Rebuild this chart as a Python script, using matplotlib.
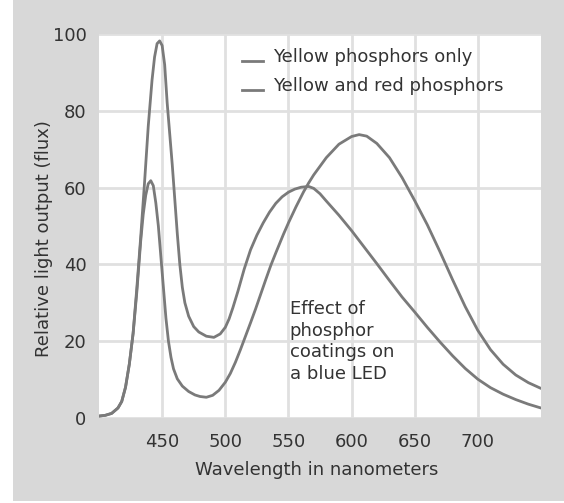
import matplotlib
matplotlib.use("Agg")
import matplotlib.pyplot as plt
from matplotlib.patches import Rectangle
from matplotlib.lines import Line2D
from matplotlib.legend_handler import HandlerLine2D

# ---- data ----
wl_yellow = [400, 405, 410, 415, 418, 421, 424, 427, 430, 433, 436, 439, 442, 444,
             446, 448, 450, 452, 454, 456, 458, 460, 462, 464, 466, 468, 471, 475,
             479, 485, 491, 496, 500, 503, 506, 510, 515, 520, 525, 530, 535, 540,
             545, 550, 555, 560, 566, 570, 575, 580, 590, 600, 610, 620, 630, 640,
             650, 660, 670, 680, 690, 700, 710, 720, 730, 740, 750]
flux_yellow = [0.5, 0.7, 1.2, 2.6, 4.3, 8, 14, 22, 34, 47, 61, 76, 88, 94,
               97.5, 98.2, 97, 92, 82, 74, 66, 57, 48, 40, 34, 30, 26.5, 23.8,
               22.4, 21.3, 21, 21.9, 23.6, 25.8, 28.7, 33, 38.8, 43.8, 47.6, 50.8, 53.6, 55.9,
               57.6, 58.8, 59.6, 60.1, 60.3, 59.8, 58.4, 56.5, 52.8, 48.8, 44.5, 40.2, 35.8, 31.5,
               27.6, 23.6, 19.8, 16.2, 12.9, 10.1, 7.9, 6.2, 4.8, 3.6, 2.6]

wl_red = [400, 405, 410, 415, 418, 421, 424, 427, 430, 433, 435, 437, 439, 441,
          443, 445, 447, 449, 451, 453, 455, 457, 459, 462, 466, 471, 476, 480,
          485, 490, 495, 500, 504, 508, 512, 516, 520, 524, 528, 532, 536, 540,
          546, 550, 556, 562, 566, 570, 580, 590, 600, 606, 612, 620, 630, 640,
          650, 660, 670, 680, 690, 700, 710, 720, 730, 740, 750]
flux_red = [0.5, 0.7, 1.2, 2.6, 4.3, 8, 14, 22, 33, 46, 53, 58, 61, 61.8,
            60.5, 56, 50, 42, 34, 26, 20, 15.8, 12.8, 10.2, 8.3, 6.9, 6.0, 5.6,
            5.4, 5.9, 7.2, 9.3, 11.6, 14.5, 17.8, 21.3, 24.8, 28.4, 32.2, 36.0, 39.7, 43.0,
            47.8, 50.8, 55.0, 58.9, 61.2, 63.3, 67.8, 71.3, 73.3, 73.8, 73.4, 71.5, 67.8, 62.6,
            56.6, 50.3, 43.3, 36.0, 29.0, 22.8, 17.8, 14.0, 11.2, 9.2, 7.7]

series_labels = ["Yellow phosphors only", "Yellow and red phosphors"]
x_ticks = [450, 500, 550, 600, 650, 700]
y_ticks = [0, 20, 40, 60, 80, 100]
note = "Effect of\nphosphor\ncoatings on\na blue LED"

# ---- styling ----
BG = "#d8d8d8"
LINE = "#7a7a7a"
TXT = "#333333"
GRID = "#e0e0e0"
FS = 13

plt.rcParams['font.family'] = ['DejaVu Sans']


class LowLineHandler(HandlerLine2D):
    """Legend handle drawn near the text baseline, like an underscore."""
    def create_artists(self, legend, orig_handle, xdescent, ydescent,
                       width, height, fontsize, trans):
        arts = super().create_artists(legend, orig_handle, xdescent, ydescent,
                                      width, height, fontsize, trans)
        for a in arts:
            a.set_ydata([y - 0.42 * height for y in a.get_ydata()])
        return arts


fig = plt.figure(figsize=(5.64, 5.03), dpi=100)
fig.patch.set_facecolor("white")
fig.patches.append(Rectangle((13 / 564, 0.004), 1 - 13 / 564, 0.996,
                             transform=fig.transFigure, facecolor=BG,
                             edgecolor="none", zorder=-10))

ax = fig.add_axes([99 / 564, 1 - 418 / 503, 442 / 564, 384 / 503])
ax.set_facecolor("white")
ax.set_xlim(400, 750)
ax.set_ylim(0, 100)

ax.set_xticks(x_ticks)
ax.set_yticks(y_ticks)
ax.tick_params(length=0, labelsize=FS, labelcolor=TXT)
ax.tick_params(axis='x', pad=11)
ax.tick_params(axis='y', pad=9)
for s in ax.spines.values():
    s.set_visible(False)
ax.grid(True, color=GRID, linewidth=2)
ax.set_axisbelow(True)

ax.plot(wl_yellow, flux_yellow, color=LINE, linewidth=2.0,
        solid_capstyle='round', solid_joinstyle='round')
ax.plot(wl_red, flux_red, color=LINE, linewidth=2.0,
        solid_capstyle='round', solid_joinstyle='round')

ax.set_xlabel("Wavelength in nanometers", fontsize=FS, color=TXT)
ax.set_ylabel("Relative light output (flux)", fontsize=FS, color=TXT)
ax.xaxis.set_label_coords(0.493, -0.112)
ax.yaxis.set_label_coords(-0.105, 0.466)

ax.text(551, 19.9, note, fontsize=FS, color=TXT, ha='left', va='center',
        linespacing=1.25)

handles = [Line2D([], [], color=LINE, linewidth=2.0) for _ in series_labels]
leg = ax.legend(handles, series_labels, loc='upper left',
                bbox_to_anchor=(241.7 / 564, 1 - 48 / 503),
                bbox_transform=fig.transFigure, frameon=False,
                fontsize=FS, handlelength=1.2, handletextpad=0.55,
                labelspacing=0.6, borderpad=0, borderaxespad=0,
                handler_map={Line2D: LowLineHandler()})
for t in leg.get_texts():
    t.set_color(TXT)

fig.savefig("out.png", dpi=100)
